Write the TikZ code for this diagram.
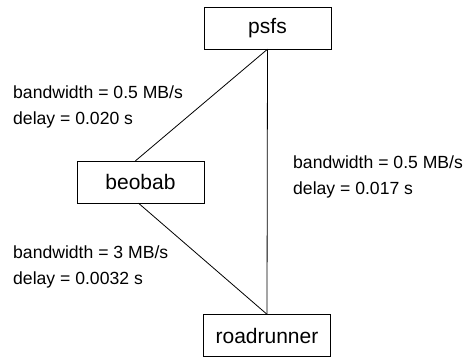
\documentclass[tikz,border=0pt]{standalone}
\usepackage{fontspec}
\setmainfont{Liberation Sans}
\usepackage{tikz}
\tikzstyle{host} = [rectangle, minimum width=127pt, minimum height=42pt, text centered, draw=black, fill=white, font=\fontsize{21}{26}\selectfont]
\tikzstyle{linkinfo} = [anchor=west, align=left, inner sep=0pt, font=\fontsize{17.6}{26}\selectfont]
\tikzstyle{link} = [line width=0.8pt, -]

\begin{document}
\begin{tikzpicture}[x=1pt, y=-1pt]
  \useasboundingbox (0,0) rectangle (464,359);
  \node (psfs) [host] at (267.5, 28) {psfs};
  \node (beobab) [host] at (140.5, 182) {beobab};
  \node (roadrunner) [host] at (267, 335.5) {roadrunner};
  \draw [link] (psfs.south) -- ([xshift=-5pt]beobab.north);
  \draw [link] ([xshift=-2pt]beobab.south) -- (roadrunner.north);
  \draw [link] (psfs.south) -- (roadrunner.north);
  \node (infoA) [linkinfo] at (13, 106.6) {bandwidth = 0.5 MB/s\\delay = 0.020 s};
  \node (infoB) [linkinfo] at (13, 267) {bandwidth = 3 MB/s\\delay = 0.0032 s};
  \node (infoC) [linkinfo] at (293, 176.6) {bandwidth = 0.5 MB/s\\delay = 0.017 s};
\end{tikzpicture}
\end{document}
